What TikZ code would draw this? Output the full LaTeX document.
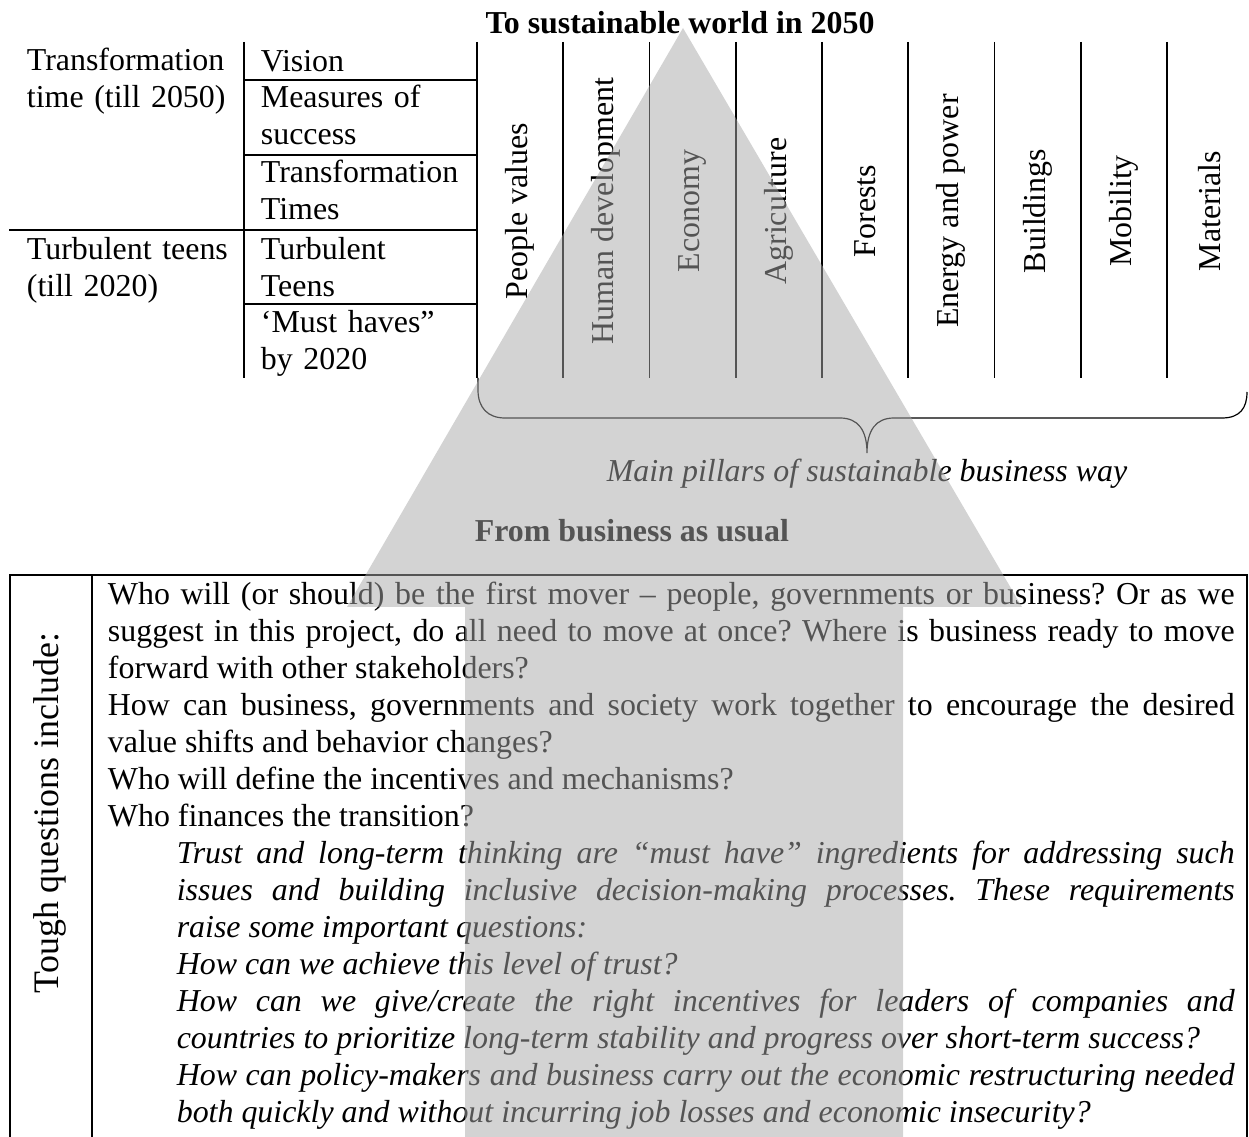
\documentclass[tikz,border=0pt]{standalone}
\usepackage{fontspec}
\setmainfont{Liberation Serif}
\usepackage{tikz}
\usetikzlibrary{calc}

\definecolor{arrowgray}{RGB}{168,168,168}
\newcommand\twelve{\fontsize{12pt}{13.9pt}\selectfont}
\newlength\bodyw \setlength\bodyw{423.7pt}
\newlength\indw \setlength\indw{25.9pt}

\begin{document}
\begin{tikzpicture}[x=0.376pt,y=-0.376pt,line width=0.7pt,
  every node/.style={font=\twelve,inner sep=0pt},
  cell/.style={anchor=base west,text width=85pt,align=left},
  pillar/.style={rotate=90,anchor=center},
  heading/.style={anchor=base,font=\twelve\bfseries}]
\useasboundingbox (0,0) rectangle (1249,1137);

% time table on the left
\node[cell] (era1) at (26,71) {Transformation\\time (till 2050)};
\node[cell] (era2) at (26,260) {Turbulent teens\\(till 2020)};
\node[cell] (vision) at (260,72) {Vision};
\node[cell] (measures) at (260,108) {Measures of\\success};
\node[cell] (ttimes) at (260,183) {Transformation\\Times};
\node[cell] (tteens) at (260,260) {Turbulent\\Teens};
\node[cell] (musthave) at (260,333) {‘Must haves”\\by 2020};
\draw
(244,42) -- (244,378)
(244,80) -- (477,80)
(244,155) -- (477,155)
(9,230) -- (477,230)
(244,304) -- (477,304);

% pillars
\foreach \pil [count=\i from 0] in {People values, Human development, Economy,
  Agriculture, Forests, Energy and power, Buildings, Mobility, Materials} {
  \draw (477+86.25*\i,42) -- (477+86.25*\i,378);
  \node[pillar] (p\i) at (520+86.25*\i,211) {\pil};
}

% the brace under the pillars
\draw[line width=0.45pt]
(478,378) -- (478,390) .. controls (478,408) and (488,418) .. (505,418)
-- (840,418) .. controls (858,418) and (867,430) .. (867,453)
.. controls (867,430) and (876,418) .. (894,418)
-- (1222,418) .. controls (1240,418) and (1247,408) .. (1247,392);

\node[heading] (goal) at (680,34) {To sustainable world in 2050};
\node[anchor=base,font=\twelve\itshape] (pillars) at (867,482)
  {Main pillars of sustainable business way};
\node[heading] (start) at (632,542) {From business as usual};

% box of questions
\draw (10,1137) |- (1247,575) -- (1247,1137);
\draw (92,575) -- (92,1137);
\node[rotate=90,font=\fontsize{13.5pt}{16pt}\selectfont] (tough) at (50,813)
  {Tough questions include:};
\node[anchor=base west,text width=\bodyw,align=justify] (questions) at (107,605) {%
\frenchspacing\parskip=0pt\spaceskip=3pt plus 3pt minus 1.2pt
Who will (or should) be the first mover – people, governments or business? Or as we\linebreak
suggest in this project, do all need to move at once? Where is business ready to move\linebreak
forward with other stakeholders?\par
How can business, governments and society work together to encourage the desired\linebreak
value shifts and behavior changes?\par
Who will define the incentives and mechanisms?\par
Who finances the transition?\par
\itshape\leftskip=\indw
Trust and long-term thinking are “must have” ingredients for addressing such\linebreak
issues and building inclusive decision-making processes. These requirements\linebreak
raise some important questions:\par
How can we achieve this level of trust?\par
How can we give/create the right incentives for leaders of companies and\linebreak
countries to prioritize long-term stability and progress over short-term success?\par
How can policy-makers and business carry out the economic restructuring needed\linebreak
both quickly and without incurring job losses and economic insecurity?\par};

% the big arrow goes over everything
\fill[arrowgray,fill opacity=0.5]
(683,28) -- (1022,607) -- (903,607) -- (903,1137)
-- (465,1137) -- (465,607) -- (347,607) -- cycle;
\end{tikzpicture}
\end{document}
